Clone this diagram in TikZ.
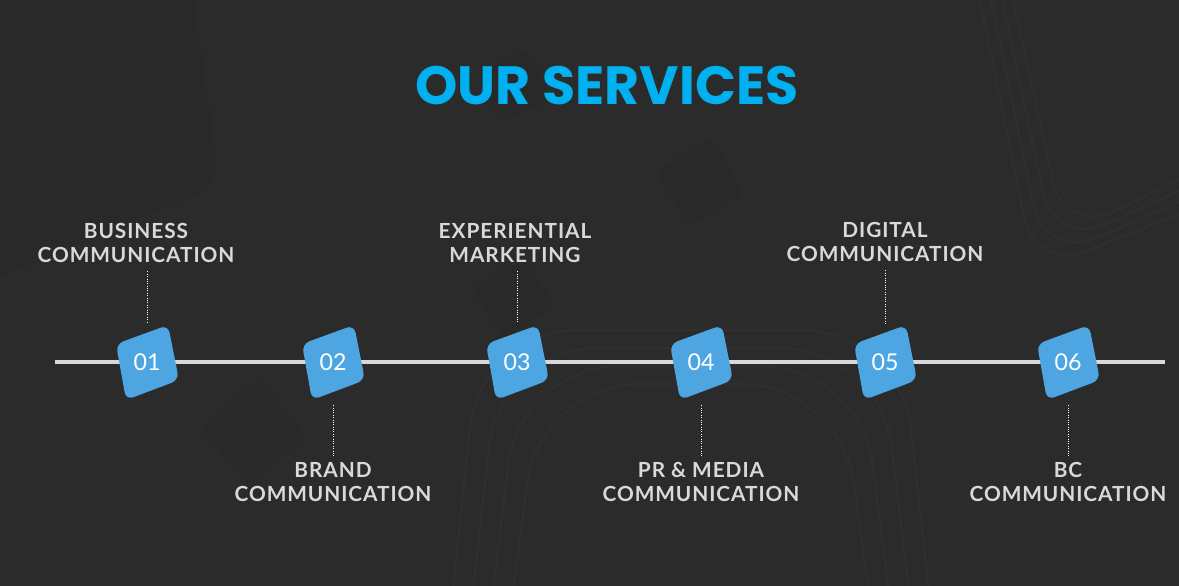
\documentclass[tikz,border=0pt]{standalone}
\usepackage{fontspec}
\setmainfont{Lato}
\newfontfamily\titlefont{Poppins}
\newfontfamily\labelfont[LetterSpace=4.5]{Lato}
\usetikzlibrary{positioning}
\definecolor{bgdark}{HTML}{2B2B2B}
\definecolor{bgshade}{HTML}{29292A}
\definecolor{bgline}{HTML}{2F2F31}
\definecolor{titleblue}{HTML}{00B0F0}
\definecolor{stepblue}{HTML}{4DA6E2}
\definecolor{labelgray}{HTML}{D9D9D9}

\begin{document}
\begin{tikzpicture}[x=0.025cm,y=-0.025cm,
		stepnum/.style={text=white,font=\fontsize{16.5}{16.5}\selectfont,inner sep=0pt,minimum height=41pt},
		stepshape/.style={fill=stepblue,rounded corners=5.5pt},
		steplabel/.style={text=labelgray,font=\labelfont\bfseries\fontsize{14.8}{17}\selectfont,align=center,inner sep=0pt},
		upleader/.style={white,densely dotted,line width=0.7pt,shorten <=6pt,shorten >=7pt},
		downleader/.style={white,densely dotted,line width=0.7pt,shorten <=10pt,shorten >=4pt}]
	\useasboundingbox[fill=bgdark] (0,0) rectangle (1179,586);
	
	% faint shapes behind
	\fill[bgshade,rounded corners=22pt] (-80,-60) -- (185,-60) -- (220,185) -- (-30,290) -- cycle;
	\foreach \cx/\cy/\s/\a in {515/86/28/25,700/182/32/30,513/297/30/35,253/432/38/40}
		\fill[bgshade,rounded corners=6pt,rotate around={\a:(\cx,\cy)}] (\cx-\s,\cy-\s) rectangle (\cx+\s,\cy+\s);
	\foreach \k in {0,1,2,3}
		\draw[bgline,line width=1.5pt,rounded corners=40pt] (978+11*\k,-10) -- (1035+10*\k,272-12*\k) -- (1200,205-12*\k);
	\foreach \k in {0,1,2,3}
		\draw[bgline,line width=1.5pt,rounded corners=70pt] (452+20*\k,600) -- (480+20*\k,330+18*\k) -- (900-20*\k,330+18*\k) -- (930-20*\k,600);
	
	\node[font=\titlefont\bfseries\fontsize{38.3}{38.3}\selectfont,text=titleblue] (title) at (607,86) {OUR SERVICES};
	
	\coordinate (start) at (55,362);
	\coordinate (end) at (1165,362);
	\draw[labelgray,line width=3pt] (start) -- (end);
	
	\foreach \i/\x in {1/147,2/333,3/517,4/701,5/885,6/1068} {
		\fill[stepshape] (\x-31,344) -- (\x+21,325) -- (\x+32,380) -- (\x-21,400) -- cycle;
		\node[stepnum] (s\i) at (\x,362) {0\i};
	}
	
	\node[steplabel] (l1) at (136,243) {BUSINESS\\COMMUNICATION};
	\node[steplabel] (l2) at (333,482) {BRAND\\COMMUNICATION};
	\node[steplabel] (l3) at (515,243) {EXPERIENTIAL\\MARKETING};
	\node[steplabel] (l4) at (701,482) {PR \& MEDIA\\COMMUNICATION};
	\node[steplabel] (l5) at (885,242) {DIGITAL\\COMMUNICATION};
	\node[steplabel] (l6) at (1068,482) {BC\\COMMUNICATION};
	
	\draw[upleader] (l1.south -| s1) -- (s1.north);
	\draw[downleader] (s2.south) -- (l2.north);
	\draw[upleader] (l3.south -| s3) -- (s3.north);
	\draw[downleader] (s4.south) -- (l4.north);
	\draw[upleader] (l5.south -| s5) -- (s5.north);
	\draw[downleader] (s6.south) -- (l6.north);
\end{tikzpicture}
\end{document}
